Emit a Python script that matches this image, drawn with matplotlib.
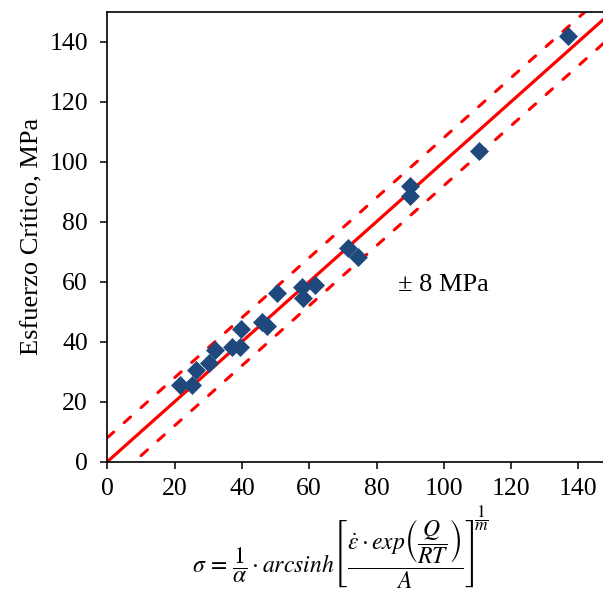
import numpy as np
import matplotlib
matplotlib.use('Agg')
import matplotlib.pyplot as plt

plt.rcParams['font.family'] = 'serif'
plt.rcParams['font.serif'] = ['Liberation Serif', 'STIXGeneral', 'DejaVu Serif']
plt.rcParams['mathtext.fontset'] = 'stix'

# calculated stress (x) vs measured critical stress (y), MPa
sigma_calc = [21.6, 25.1, 26.4, 30.3, 32.0, 37.0, 39.4, 39.7, 45.9, 47.4,
              50.3, 57.8, 58.1, 61.7, 71.6, 74.6, 90.0, 90.0, 110.5, 136.8]
sigma_exp = [25.6, 25.6, 30.6, 32.8, 37.2, 38.3, 38.1, 44.1, 46.7, 45.2,
             56.3, 58.3, 54.5, 58.9, 71.1, 68.3, 91.9, 88.6, 103.6, 141.9]

# 1:1 line and +/- band
fit_x = [0, 160]
band = 8
ticks = [0, 20, 40, 60, 80, 100, 120, 140]

fig = plt.figure(figsize=(6.03, 5.97), dpi=100)
W, H = 603, 597
ax = fig.add_axes([107.3 / W, 1 - 461.7 / H, (W - 107.3) / W, 450 / H])

fx = np.array(fit_x, dtype=float)
ax.plot(fx, fx, color='#FF0000', lw=2.3, solid_capstyle='round', zorder=2)
ax.plot(fx, fx + band, color='#FF0000', lw=2.2, ls=(0, (2.8, 4.6)),
        dash_capstyle='round', zorder=2)
ax.plot(fx, fx - band, color='#FF0000', lw=2.2, ls=(0, (2.8, 4.6)),
        dash_capstyle='round', zorder=2)

ax.plot(sigma_calc, sigma_exp, 'D', color='#1F497D', ms=9, mew=0.5,
        mec='#1F497D', zorder=3, clip_on=False)

ax.set_xlim(0, (W - 107.3) / 3.365)
ax.set_ylim(0, 150)
ax.set_xticks(ticks)
ax.set_yticks(ticks)
ax.tick_params(labelsize=18.5, length=5, width=1.1, direction='out')
ax.tick_params(axis='x', pad=7)
ax.tick_params(axis='y', pad=9)
for s in ['left', 'bottom', 'top']:
    ax.spines[s].set_linewidth(1.2)
ax.spines['right'].set_visible(False)

ax.set_ylabel('Esfuerzo Crítico, MPa', fontsize=19, labelpad=4)
ax.text(86.4, 59, '± 8 MPa', fontsize=19, va='center', ha='left')

# x label: constitutive equation, exponent drawn as its own fraction
fig.text(333 / W, 1 - 554 / H,
         r'$\sigma\,=\,\dfrac{1}{\alpha} \cdot arcsinh\left[\dfrac{\dot{\varepsilon} \cdot exp\left(\dfrac{Q}{RT}\right)}{A}\right]$',
         fontsize=17, ha='center', va='center')
fig.text(481 / W, 1 - 518 / H, r'$\dfrac{1}{m}$', fontsize=12.5,
         ha='center', va='center')

fig.savefig('out.png', dpi=100)
